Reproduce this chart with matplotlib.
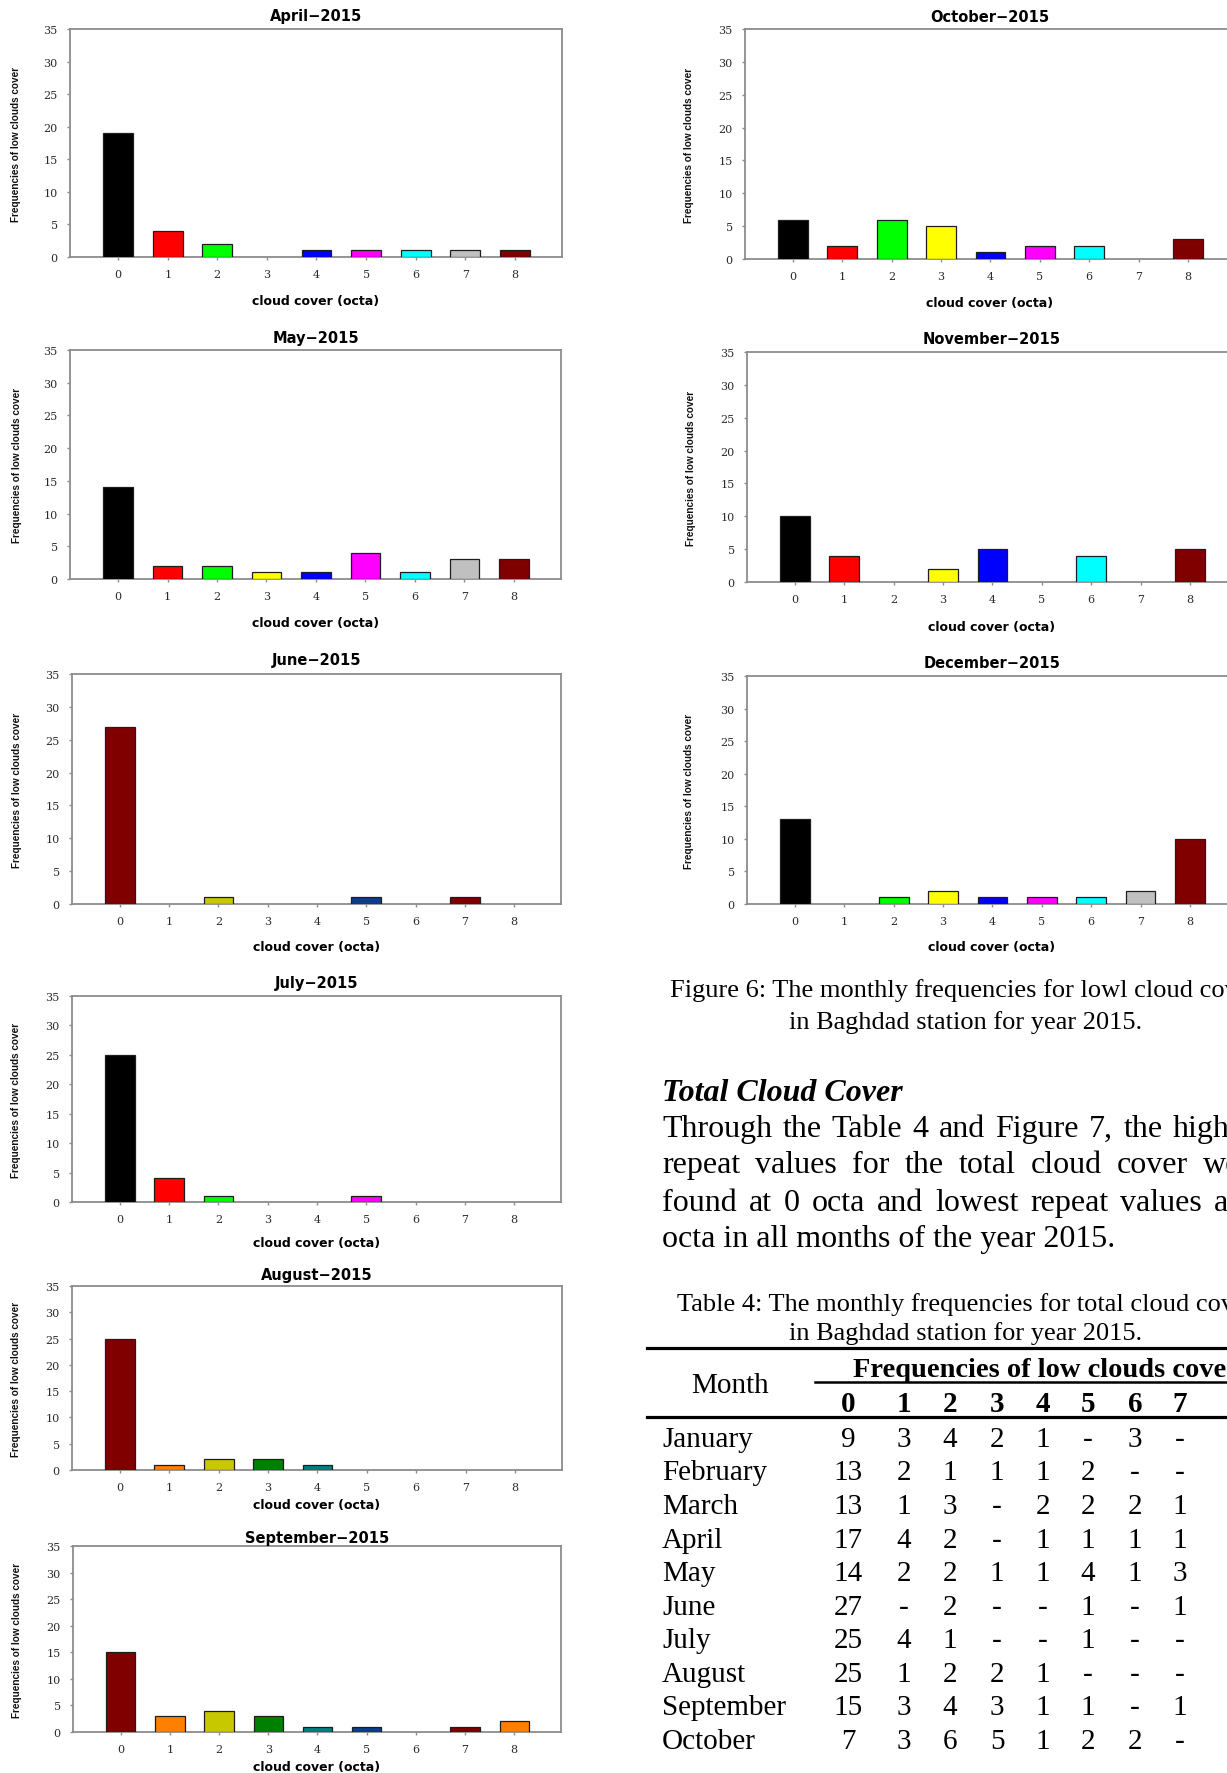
import matplotlib
matplotlib.use("Agg")
import matplotlib.pyplot as plt
import matplotlib.transforms as mtransforms
from matplotlib.lines import Line2D
from matplotlib import font_manager

# ---------------- data ----------------
octas = list(range(9))
octa_labels = [str(o) for o in octas]
freq_ticks = [0, 5, 10, 15, 20, 25, 30, 35]

april = [19, 4, 2, 0, 1, 1, 1, 1, 1]
may = [14, 2, 2, 1, 1, 4, 1, 3, 3]
june = [27, 0, 1, 0, 0, 1, 0, 1, 0]
july = [25, 4, 1, 0, 0, 1, 0, 0, 0]
august = [25, 1, 2, 2, 1, 0, 0, 0, 0]
september = [15, 3, 4, 3, 1, 1, 0, 1, 2]
october = [6, 2, 6, 5, 1, 2, 2, 0, 3]
november = [10, 4, 0, 2, 5, 0, 4, 0, 5]
december = [13, 0, 1, 2, 1, 1, 1, 2, 10]

bright_colors = ['#000000', '#ff0000', '#00ff00', '#ffff00', '#0000ff',
                 '#ff00ff', '#00ffff', '#c0c0c0', '#800000']
summer_colors = ['#800000', '#ff8000', '#c8c800', '#008000', '#008080',
                 '#0a3d8f', '#808080', '#800000', '#ff8000']

table_months = ['January', 'February', 'March', 'April', 'May', 'June',
                'July', 'August', 'September', 'October']
table_cols = ['0', '1', '2', '3', '4', '5', '6', '7']
table_jan = ['9', '3', '4', '2', '1', '-', '3', '-']
table_feb = ['13', '2', '1', '1', '1', '2', '-', '-']
table_mar = ['13', '1', '3', '-', '2', '2', '2', '1']
table_apr = ['17', '4', '2', '-', '1', '1', '1', '1']
table_may = ['14', '2', '2', '1', '1', '4', '1', '3']
table_jun = ['27', '-', '2', '-', '-', '1', '-', '1']
table_jul = ['25', '4', '1', '-', '-', '1', '-', '-']
table_aug = ['25', '1', '2', '2', '1', '-', '-', '-']
table_sep = ['15', '3', '4', '3', '1', '1', '-', '1']
table_oct = ['7', '3', '6', '5', '1', '2', '2', '-']
table_rows = [table_jan, table_feb, table_mar, table_apr, table_may,
              table_jun, table_jul, table_aug, table_sep, table_oct]

# ---------------- page ----------------
W, H = 1227, 1774
fig = plt.figure(figsize=(W / 100, H / 100), dpi=100)
fig.patch.set_facecolor('white')

installed = {f.name for f in font_manager.fontManager.ttflist}
if 'Liberation Sans Narrow' in installed:
    ylab_family, ylab_size, ylab_weight = 'Liberation Sans Narrow', 9, 'normal'
else:
    ylab_family, ylab_size, ylab_weight = 'Liberation Sans', 7.2, 'bold'

SERIF = 'Liberation Serif'


def fy(y):
    return 1 - y / H


def px_axes(l, t, r, b):
    return fig.add_axes([l / W, 1 - b / H, (r - l) / W, (b - t) / H])


def draw_chart(box, title, values, colors, title_y, xlabel_y, ylabel_x):
    ax = px_axes(*box)
    widths = [0.9 if v > 0 else 0 for v in values]
    ax.bar(octas, values, width=0.6, color=colors, edgecolor='#1e1e1e',
           linewidth=widths, zorder=3)
    ax.set_xlim(-0.97, 8.95)
    ax.set_ylim(0, 35)
    ax.set_xticks(octas)
    ax.set_xticklabels(octa_labels)
    ax.set_yticks(freq_ticks)
    for sp in ax.spines.values():
        sp.set_color('#8c8c8c')
        sp.set_linewidth(1.3)
    ax.tick_params(axis='both', direction='out', length=2.4, width=1,
                   color='#8c8c8c', labelcolor='#2a2a2a', labelsize=8, pad=6.5)
    for lab in ax.get_xticklabels() + ax.get_yticklabels():
        lab.set_fontfamily('DejaVu Serif')
    tr = mtransforms.blended_transform_factory(ax.transAxes, fig.transFigure)
    ax.text(0.5, fy(title_y), title, transform=tr, ha='center', va='center',
            fontsize=10.5, fontweight='bold', family='DejaVu Sans')
    ax.text(0.5, fy(xlabel_y), 'cloud cover (octa)', transform=tr,
            ha='center', va='center', fontsize=9, fontweight='bold',
            family='DejaVu Sans')
    tr2 = mtransforms.blended_transform_factory(fig.transFigure, ax.transAxes)
    ax.text(ylabel_x / W, 0.5, 'Frequencies of low clouds cover',
            transform=tr2, rotation=90, ha='center', va='center',
            fontsize=ylab_size, family=ylab_family, fontweight=ylab_weight,
            color='#111111')
    return ax


# left column
draw_chart((70, 30, 562, 258), 'April−2015', april, bright_colors, 17, 302, 16)
draw_chart((70, 351, 561, 580), 'May−2015', may, bright_colors, 338, 623, 17)
draw_chart((72, 675, 561, 905), 'June−2015', june, summer_colors, 661, 948, 17)
draw_chart((72, 997, 561, 1203), 'July−2015', july, bright_colors, 984, 1243, 16)
draw_chart((72, 1287, 562, 1471), 'August−2015', august, summer_colors, 1276, 1506, 16)
draw_chart((73, 1547, 561, 1733), 'September−2015', september, summer_colors, 1538, 1768, 17)

# right column
draw_chart((745, 30, 1235, 260), 'October−2015', october, bright_colors, 17, 303, 689)
draw_chart((747, 353, 1237, 583), 'November−2015', november, bright_colors, 340, 627, 691)
draw_chart((747, 677, 1237, 905), 'December−2015', december, bright_colors, 664, 948, 689)

# ---------------- caption & text ----------------
fig.text(670 / W, fy(997), 'Figure 6: The monthly frequencies for lowl cloud cover',
         fontsize=19, family=SERIF, va='baseline')
fig.text(789 / W, fy(1029), 'in Baghdad station for year 2015.',
         fontsize=19, family=SERIF, va='baseline')

fig.text(662 / W, fy(1100.7), 'Total Cloud Cover', fontsize=23, family=SERIF,
         fontweight='bold', fontstyle='italic', va='baseline')

para_lines = [
    'Through the Table 4 and Figure 7, the highest',
    'repeat values for the total cloud cover were',
    'found at 0 octa and lowest repeat values at 8',
    'octa in all months of the year 2015.',
]
para_baselines = [1136.7, 1173, 1210.7, 1246.7]
para_left, para_right = 662, 1265

renderer = fig.canvas.get_renderer()
for i, (line, base) in enumerate(zip(para_lines, para_baselines)):
    if i == len(para_lines) - 1:
        fig.text(para_left / W, fy(base), line, fontsize=23, family=SERIF,
                 va='baseline')
        continue
    words = line.split()
    texts = [fig.text(0, fy(base), w, fontsize=23, family=SERIF, va='baseline')
             for w in words]
    widths = [t.get_window_extent(renderer).width for t in texts]
    gap = (para_right - para_left - sum(widths)) / (len(words) - 1)
    x = para_left
    for t, w in zip(texts, widths):
        t.set_x(x / W)
        x += w + gap

fig.text(677 / W, fy(1310.7), 'Table 4: The monthly frequencies for total cloud cover',
         fontsize=19, family=SERIF, va='baseline')
fig.text(789 / W, fy(1340), 'in Baghdad station for year 2015.',
         fontsize=19, family=SERIF, va='baseline')

# ---------------- table ----------------
def hrule(x0, y, lw):
    fig.add_artist(Line2D([x0 / W, 1.05], [fy(y), fy(y)], transform=fig.transFigure,
                          color='black', linewidth=lw))


hrule(647, 1349, 2.3)
hrule(815, 1383.3, 1.8)
hrule(647, 1418.3, 2.3)

fig.text(730 / W, fy(1393.3), 'Month', fontsize=21, family=SERIF,
         ha='center', va='baseline')
fig.text(853 / W, fy(1376.7), 'Frequencies of low clouds cover', fontsize=20.5,
         family=SERIF, fontweight='bold', va='baseline')

col_x = [848, 904, 950, 997, 1043, 1088, 1135, 1180]
for cx, lab in zip(col_x, table_cols):
    fig.text(cx / W, fy(1411.7), lab, fontsize=21, family=SERIF,
             fontweight='bold', ha='center', va='baseline')

row_base0, row_step = 1446.7, 33.6
for r, (month, row) in enumerate(zip(table_months, table_rows)):
    yb = row_base0 + r * row_step
    fig.text(662 / W, fy(yb), month, fontsize=21, family=SERIF, va='baseline')
    for cx, val in zip(col_x, row):
        fig.text(cx / W, fy(yb), val, fontsize=21, family=SERIF,
                 ha='center', va='baseline')

fig.savefig('out.png', dpi=100, facecolor='white')
